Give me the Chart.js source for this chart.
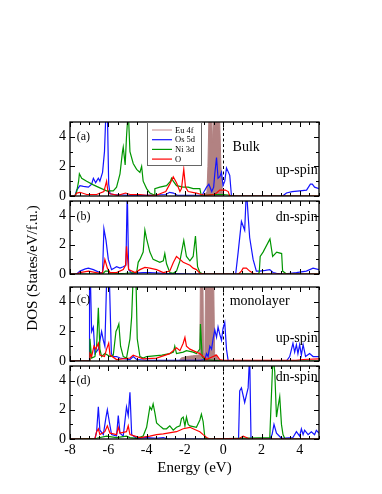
<!DOCTYPE html>
<html>
<head>
<meta charset="utf-8">
<script src="https://cdn.jsdelivr.net/npm/chart.js@4.4.1/dist/chart.umd.min.js"></script>
<style>
  html, body { margin: 0; padding: 0; background: #fff; }
  #wrap { position: relative; width: 382px; height: 494px; }
  canvas { position: absolute; left: 0; top: 0; }
</style>
</head>
<body>
<div id="wrap">
  <canvas id="pa" width="382" height="494"></canvas>
  <canvas id="pb" width="382" height="494"></canvas>
  <canvas id="pc" width="382" height="494"></canvas>
  <canvas id="pd" width="382" height="494"></canvas>
</div>
<script>
// tick labels
const energyTicks = [-8, -6, -4, -2, 0, 2, 4]
const dosTicks = [0, 2, 4]
const seriesNames = ['Eu 4f', 'Os 5d', 'Ni 3d', 'O']

// (a) bulk, up-spin   [energy eV, DOS]
const bulkUpEu = [[-1.0,0],[-0.85,0.3],[-0.8,2],[-0.74,5.8],[-0.62,5.8],[-0.56,3.5],[-0.5,5.8],[-0.2,5.8],[-0.12,2],[-0.05,0.3],[0.05,0]]
const bulkUpOs = [[-8,0],[-7.74,0],[-7.65,0.4],[-7.48,0.7],[-7.3,0.65],[-7.04,0.6],[-6.87,0.8],[-6.78,1.2],[-6.66,0.9],[-6.52,1.2],[-6.44,1.0],[-6.3,1.6],[-6.2,3.0],[-6.12,5.8],[-6.05,5.8],[-5.98,0.8],[-5.91,0.15],[-5.7,0.1],[-5.0,0.05],[-4.0,0.05],[-3.0,0.1],[-2.8,0.25],[-2.6,0.2],[-2.4,0.05],[-1.1,0.05],[-1.0,0.3],[-0.87,0.6],[-0.75,0.8],[-0.6,0.3],[-0.5,0.6],[-0.44,1.5],[-0.35,2.6],[-0.27,1.2],[-0.18,1.3],[-0.09,1.6],[-0.01,0.7],[0.08,1.0],[0.17,1.9],[0.34,1.4],[0.43,0],[3.1,0],[3.3,0.2],[3.6,0.3],[4.0,0.35],[4.35,0.4],[4.55,0.8],[4.65,0.8],[4.77,0.6],[5,0.5]]
const bulkUpNi = [[-8,0],[-7.74,0],[-7.65,0.3],[-7.55,1.0],[-7.51,1.5],[-7.39,1.2],[-7.13,1.0],[-6.78,0.75],[-6.44,0.55],[-6.09,0.35],[-5.74,0.35],[-5.57,0.6],[-5.39,1.5],[-5.26,3.0],[-5.22,3.3],[-5.12,2.1],[-5.05,4.0],[-4.96,5.8],[-4.92,5.8],[-4.87,3.0],[-4.7,2.2],[-4.52,1.8],[-4.35,1.6],[-4.26,2.0],[-4.18,1.0],[-4.0,0.5],[-3.83,0.2],[-3.66,0.1],[-3.6,0.1],[-3.57,0.5],[-3.31,0.6],[-2.96,0.7],[-2.75,1.0],[-2.7,1.2],[-2.61,1.0],[-2.44,0.7],[-2.09,0.6],[-1.83,0.6],[-1.57,0.5],[-1.22,0.5],[-1.14,0],[-0.9,0.05],[-0.6,0.1],[-0.3,0.1],[0,0.1],[0.35,0.05],[0.43,0],[5,0]]
const bulkUpO = [[-8,0],[-7.74,0],[-7.65,0.2],[-7.48,0.25],[-7.13,0.1],[-6.61,0.1],[-6.23,0.3],[-6.09,1.0],[-6.02,0.3],[-5.91,0.15],[-5.5,0.05],[-5.1,0.2],[-4.87,0.1],[-4.35,0.1],[-4.0,0.05],[-3.5,0.05],[-3.0,0.3],[-2.79,0.8],[-2.61,1.3],[-2.44,0.9],[-2.26,0.3],[-2.18,0.5],[-2.06,1.8],[-1.97,0.6],[-1.83,0.3],[-1.4,0.2],[-1.14,0.1],[-0.9,0.05],[-0.5,0.1],[-0.35,0.2],[-0.18,0.4],[0.1,0.4],[0.26,0.3],[0.34,0],[5,0]]

// (b) bulk, dn-spin
const bulkDnOs = [[-8,0],[-7.65,0],[-7.48,0.2],[-7.2,0.35],[-7.04,0.4],[-6.78,0.3],[-6.44,0.1],[-6.3,0.1],[-6.23,3.1],[-6.12,2.3],[-6.0,1.0],[-5.83,0.3],[-5.7,0.4],[-5.57,0.5],[-5.39,0.4],[-5.22,0.5],[-5.08,0.6],[-5.01,5.8],[-4.94,0.3],[-4.78,0.05],[-4.18,0.1],[-3.83,0.1],[-3.13,0.05],[-1.74,0],[0.65,0],[0.78,1.5],[0.95,3.6],[1.12,3.0],[1.21,5.8],[1.30,4.0],[1.38,2.5],[1.56,1.0],[1.73,0.2],[1.91,0.2],[2.2,0.25],[2.43,0.3],[2.6,0.1],[2.78,0.05],[3.12,0],[3.5,0.05],[3.82,0.1],[4.34,0.2],[4.69,0.4],[5,0.3]]
const bulkDnNi = [[-8,0],[-6.3,0],[-6.15,0.2],[-6.0,0.2],[-5.9,0],[-5.1,0.05],[-4.6,0.1],[-4.52,0.1],[-4.44,0.8],[-4.35,1.0],[-4.18,1.5],[-4.09,3.0],[-4.0,2.4],[-3.83,1.5],[-3.66,1.0],[-3.31,0.8],[-3.13,0.9],[-3.05,1.4],[-2.96,0.7],[-2.79,0.1],[-2.61,0.05],[-2.44,0.2],[-2.26,0.9],[-2.06,2.3],[-1.92,1.2],[-1.74,0.9],[-1.57,1.2],[-1.45,2.6],[-1.34,0.5],[-1.22,0.1],[-1.05,0],[1.8,0],[1.88,0.1],[1.93,1.2],[2.08,1.5],[2.44,2.4],[2.58,1.2],[2.79,1.5],[3.05,1.4],[3.1,0.2],[3.3,0],[5,0]]
const bulkDnO = [[-8,0],[-7.65,0],[-7.48,0.1],[-7.04,0.2],[-6.44,0.05],[-6.3,0.1],[-6.18,1.0],[-6.05,0.4],[-5.91,0.1],[-5.57,0.1],[-5.22,0.3],[-5.1,0.6],[-5.05,1.9],[-4.94,0.3],[-4.6,0.1],[-4.35,0.3],[-4.09,0.45],[-3.83,0.4],[-3.48,0.3],[-3.13,0.1],[-2.79,0.2],[-2.6,0.8],[-2.44,1.2],[-2.26,1.0],[-2.09,0.8],[-1.74,0.6],[-1.57,0.4],[-1.4,0.3],[-1.22,0.05],[-1.0,0],[0.8,0],[0.95,0.2],[1.04,0.4],[1.21,0.4],[1.38,0.2],[1.56,0.05],[1.7,0],[5,0]]

// (c) monolayer, up-spin
const monoUpEu = [[-2.3,0],[-2.2,0.2],[-1.9,0.3],[-1.6,0.35],[-1.3,0.4],[-1.22,0.5],[-1.19,5.8],[-1.06,5.8],[-1.03,0.5],[-0.96,0.5],[-0.92,5.8],[-0.5,5.8],[-0.45,0.5],[-0.3,0.2],[-0.1,0]]
const monoUpOs = [[-8,0],[-7.0,0],[-6.98,5.8],[-6.94,5.8],[-6.87,2.0],[-6.78,2.3],[-6.7,0.5],[-6.52,0.8],[-6.35,2.0],[-6.26,1.4],[-6.18,1.0],[-6.08,5.8],[-5.95,5.8],[-5.84,0.5],[-5.74,0.3],[-5.57,0.3],[-5.39,0.2],[-4.87,0.1],[-4.70,0.3],[-4.52,0.1],[-4.0,0.05],[-3.0,0.05],[-2.0,0.05],[-1.2,0.05],[-0.96,0.1],[-0.87,0.5],[-0.79,0.3],[-0.70,1.0],[-0.61,0.8],[-0.53,1.5],[-0.44,2.1],[-0.35,1.6],[-0.27,2.3],[-0.18,1.8],[-0.09,1.4],[-0.01,2.2],[0.08,2.6],[0.17,0.8],[0.26,0],[3.3,0],[3.47,0.3],[3.64,1.2],[3.73,0.6],[3.82,1.1],[3.9,0.5],[3.99,1.1],[4.08,0.4],[4.17,1.1],[4.3,0.3],[4.51,0.5],[4.69,0.3],[5,0.3]]
const monoUpNi = [[-8,0],[-7.0,0],[-6.96,1.5],[-6.87,0.2],[-6.70,0.3],[-6.61,1.0],[-6.52,3.6],[-6.44,0.8],[-6.35,0.3],[-6.18,0.5],[-5.91,0.3],[-5.74,0.4],[-5.60,2.0],[-5.53,2.2],[-5.45,2.5],[-5.36,1.0],[-5.22,0.3],[-5.05,0.2],[-4.87,1.5],[-4.78,3.0],[-4.70,5.8],[-4.56,5.8],[-4.49,1.5],[-4.35,0.3],[-4.18,0.2],[-4.0,0.3],[-3.6,0.35],[-3.2,0.4],[-2.8,0.5],[-2.6,0.6],[-2.53,1.0],[-2.44,0.5],[-2.09,0.6],[-1.92,0.7],[-1.57,0.6],[-1.40,0.5],[-1.22,0.8],[-1.19,2.5],[-1.10,0.3],[-0.96,0.1],[-0.53,0.05],[0,0],[5,0]]
const monoUpO = [[-8,0],[-7.0,0],[-6.96,0.5],[-6.87,0.3],[-6.75,1.0],[-6.66,0.8],[-6.52,1.2],[-6.44,0.4],[-6.2,0.3],[-6.09,0.8],[-5.98,1.2],[-5.91,0.4],[-5.57,0.1],[-4.87,0.2],[-4.70,0.4],[-4.52,0.3],[-4.18,0.15],[-3.48,0.2],[-2.79,0.5],[-2.44,0.9],[-2.26,0.7],[-2.09,1.2],[-2.0,1.6],[-1.92,1.0],[-1.74,0.8],[-1.57,0.7],[-1.40,0.6],[-1.22,0.5],[-1.05,0.3],[-0.87,0.1],[-0.53,0.3],[-0.35,0.4],[-0.18,0.1],[0,0.05],[3.8,0.05],[4.17,0.1],[5,0.15]]

// (d) monolayer, dn-spin
const monoDnOs = [[-8,0],[-6.70,0],[-6.61,0.5],[-6.52,2.2],[-6.44,0.6],[-6.26,0.3],[-6.12,1.5],[-6.05,2.0],[-5.95,1.2],[-5.83,0.3],[-5.57,0.2],[-5.48,1.6],[-5.39,0.4],[-5.22,0.2],[-5.05,2.2],[-4.96,1.6],[-4.87,3.2],[-4.78,0.3],[-4.52,0.05],[-4.0,0.1],[-3.48,0.05],[-3.13,0.1],[-2.9,0],[0.8,0],[0.86,3.3],[0.95,3.5],[1.12,2.5],[1.21,3.0],[1.30,3.5],[1.38,5.8],[1.45,0],[2.43,0],[2.55,0.3],[2.65,1.0],[2.78,0.4],[3.04,0.05],[3.64,0.1],[3.82,0.5],[3.99,0.2],[4.08,0.7],[4.17,0.3],[4.25,0.6],[4.43,0.3],[4.6,0.5],[4.77,0.3],[4.86,0.6],[5,0.4]]
const monoDnNi = [[-8,0],[-6.61,0.05],[-6.09,0.2],[-5.57,0.1],[-5.05,0.2],[-4.87,0.1],[-4.52,0.05],[-4.18,0.2],[-4.0,0.8],[-3.83,2.2],[-3.74,2.0],[-3.66,2.4],[-3.57,1.8],[-3.48,1.1],[-3.31,0.9],[-3.13,0.7],[-2.96,0.7],[-2.79,0.9],[-2.61,0.6],[-2.44,0.8],[-2.26,0.9],[-2.18,1.4],[-2.09,1.5],[-2.0,0.9],[-1.92,1.5],[-1.83,1.0],[-1.74,0.9],[-1.40,0.8],[-1.22,1.3],[-1.14,1.7],[-1.05,1.2],[-0.96,0.1],[-0.87,0],[2.43,0.1],[2.60,5.8],[2.69,4.6],[2.78,1.5],[2.86,2.2],[2.95,2.9],[3.04,1.0],[3.12,0.3],[3.21,0.05],[3.3,0],[5,0]]
const monoDnO = [[-8,0],[-6.70,0],[-6.61,0.5],[-6.52,0.7],[-6.44,0.3],[-6.18,0.5],[-6.05,0.9],[-5.91,0.4],[-5.57,0.3],[-5.48,0.8],[-5.39,0.4],[-5.05,0.5],[-4.96,0.9],[-4.87,0.3],[-4.35,0.1],[-3.83,0.2],[-3.48,0.3],[-3.13,0.35],[-2.44,0.5],[-2.09,0.7],[-1.74,0.8],[-1.40,0.6],[-1.22,0.5],[-1.05,0.3],[-0.87,0.1],[-0.70,0],[0.86,0.05],[1.04,0.2],[1.21,0.1],[1.38,0],[5,0]]

const FONT = "'Liberation Serif', 'DejaVu Serif', serif"
const euFill = 'rgb(178,130,130)'
const euLegend = 'rgb(205,155,155)'
const osColor = 'rgb(20,20,255)'
const niColor = 'rgb(0,150,0)'
const oColor = 'rgb(255,0,0)'

function pts(arr) {
    return arr.map(p => ({ x: p[0], y: p[1] }))
}

function lineSet(label, arr, color, order) {
    return { label: label, data: pts(arr), borderColor: color, borderWidth: 1.2, pointRadius: 0, tension: 0, fill: false, order: order }
}

function euSet(arr) {
    return { label: seriesNames[0], data: pts(arr), borderColor: euFill, backgroundColor: euFill, borderWidth: 1, pointRadius: 0, tension: 0, fill: 'origin', order: 9 }
}

// inward ticks, frame, Fermi level, notes, legend
const decor = {
    id: 'decor',
    beforeDatasetsDraw(chart) {
        const { ctx, chartArea: a, scales: { x } } = chart
        const px = Math.round(x.getPixelForValue(0)) + 0.5
        ctx.save()
        ctx.setLineDash([3, 2.5])
        ctx.strokeStyle = '#000'
        ctx.lineWidth = 1
        ctx.beginPath()
        ctx.moveTo(px, a.top)
        ctx.lineTo(px, a.bottom)
        ctx.stroke()
        ctx.restore()
    },
    afterDatasetsDraw(chart, args, opts) {
        const { ctx, chartArea: a, scales: { x, y } } = chart
        ctx.save()
        ctx.strokeStyle = '#000'
        ctx.lineWidth = 1
        ctx.beginPath()
        for (let v = -8; v <= 5.001; v += 0.5) {
            const px = Math.round(x.getPixelForValue(v)) + 0.5
            const len = Number.isInteger(v / 2) ? 5 : 3
            ctx.moveTo(px, a.bottom); ctx.lineTo(px, a.bottom - len)
            ctx.moveTo(px, a.top); ctx.lineTo(px, a.top + len)
        }
        for (let v = 0; v <= 5; v += 1) {
            const py = Math.round(y.getPixelForValue(v)) + 0.5
            const len = v % 2 === 0 ? 5 : 3
            ctx.moveTo(a.left, py); ctx.lineTo(a.left + len, py)
            ctx.moveTo(a.right, py); ctx.lineTo(a.right - len, py)
        }
        ctx.stroke()
        ctx.lineWidth = 1.3
        ctx.strokeRect(a.left, a.top, a.right - a.left, a.bottom - a.top)

        ctx.fillStyle = '#000'
        ctx.textBaseline = 'middle'
        opts.notes.forEach(n => {
            ctx.font = n[4] + 'px ' + FONT
            ctx.textAlign = n[3]
            ctx.fillText(n[0], x.getPixelForValue(n[1]), y.getPixelForValue(n[2]))
        })

        if (opts.legend) {
            const lx = a.left + 77, ly = a.top, lw = 54, lh = 43
            ctx.fillStyle = '#fff'
            ctx.fillRect(lx, ly, lw, lh)
            ctx.strokeStyle = '#666'
            ctx.lineWidth = 1
            ctx.strokeRect(lx + 0.5, ly + 0.5, lw, lh)
            const cols = [euLegend, osColor, niColor, oColor]
            ctx.font = '8.5px ' + FONT
            ctx.textAlign = 'left'
            seriesNames.forEach((name, i) => {
                const ry = ly + 8 + i * 9.7
                ctx.strokeStyle = cols[i]
                ctx.lineWidth = 1.2
                ctx.beginPath()
                ctx.moveTo(lx + 5, ry); ctx.lineTo(lx + 25, ry)
                ctx.stroke()
                ctx.fillStyle = '#000'
                ctx.fillText(name, lx + 28, ry + 0.5)
            })
        }

        if (opts.yTitle) {
            ctx.translate(33, 268)
            ctx.rotate(-Math.PI / 2)
            ctx.font = '15px ' + FONT
            ctx.textAlign = 'center'
            ctx.fillStyle = '#000'
            ctx.fillText('DOS (States/eV/f.u.)', 0, 0)
        }
        ctx.restore()
    }
}

function makePanel(id, top, bottom, datasets, notes, isBottom, extra) {
    const xH = isBottom ? 38 : 0
    return new Chart(document.getElementById(id), {
        type: 'line',
        data: { datasets: datasets },
        plugins: [decor],
        options: {
            responsive: false,
            animation: false,
            devicePixelRatio: 1,
            layout: { padding: { left: 0, right: 63, top: top, bottom: 494 - bottom - xH } },
            plugins: {
                legend: { display: false },
                tooltip: { enabled: false },
                decor: Object.assign({ notes: notes, legend: false, yTitle: false }, extra)
            },
            scales: {
                x: {
                    type: 'linear', min: -8, max: 5,
                    grid: { display: false, drawTicks: false },
                    border: { display: false },
                    afterBuildTicks: s => { s.ticks = energyTicks.map(v => ({ value: v })) },
                    afterFit: s => { s.height = xH },
                    ticks: { display: isBottom, padding: 3, color: '#000', font: { family: FONT, size: 14 }, maxRotation: 0 },
                    title: { display: isBottom, text: 'Energy (eV)', color: '#000', padding: 0, font: { family: FONT, size: 15 } }
                },
                y: {
                    min: 0, max: 5,
                    grid: { display: false, drawTicks: false },
                    border: { display: false },
                    afterBuildTicks: s => { s.ticks = dosTicks.map(v => ({ value: v })) },
                    afterFit: s => { s.width = 70 },
                    ticks: { padding: 4, color: '#000', font: { family: FONT, size: 14 } }
                }
            }
        }
    })
}

makePanel('pa', 122, 196, [
    lineSet(seriesNames[3], bulkUpO, oColor, 1),
    lineSet(seriesNames[2], bulkUpNi, niColor, 2),
    lineSet(seriesNames[1], bulkUpOs, osColor, 3),
    euSet(bulkUpEu)
], [['(a)', -7.3, 4.0, 'center', 12], ['Bulk', 1.2, 3.3, 'center', 14], ['up-spin', 4.93, 1.75, 'right', 14]], false, { legend: true })

makePanel('pb', 201, 274, [
    lineSet(seriesNames[3], bulkDnO, oColor, 1),
    lineSet(seriesNames[2], bulkDnNi, niColor, 2),
    lineSet(seriesNames[1], bulkDnOs, osColor, 3)
], [['(b)', -7.3, 3.9, 'center', 12], ['dn-spin', 4.93, 3.9, 'right', 14]], false, {})

makePanel('pc', 287, 361, [
    lineSet(seriesNames[3], monoUpO, oColor, 1),
    lineSet(seriesNames[2], monoUpNi, niColor, 2),
    lineSet(seriesNames[1], monoUpOs, osColor, 3),
    euSet(monoUpEu)
], [['(c)', -7.3, 4.1, 'center', 12], ['monolayer', 1.9, 4.0, 'center', 14], ['up-spin', 4.93, 1.55, 'right', 14]], false, {})

makePanel('pd', 366, 439, [
    lineSet(seriesNames[3], monoDnO, oColor, 1),
    lineSet(seriesNames[2], monoDnNi, niColor, 2),
    lineSet(seriesNames[1], monoDnOs, osColor, 3)
], [['(d)', -7.3, 4.0, 'center', 12], ['dn-spin', 4.93, 4.2, 'right', 14]], true, { yTitle: true })
</script>
</body>
</html>
